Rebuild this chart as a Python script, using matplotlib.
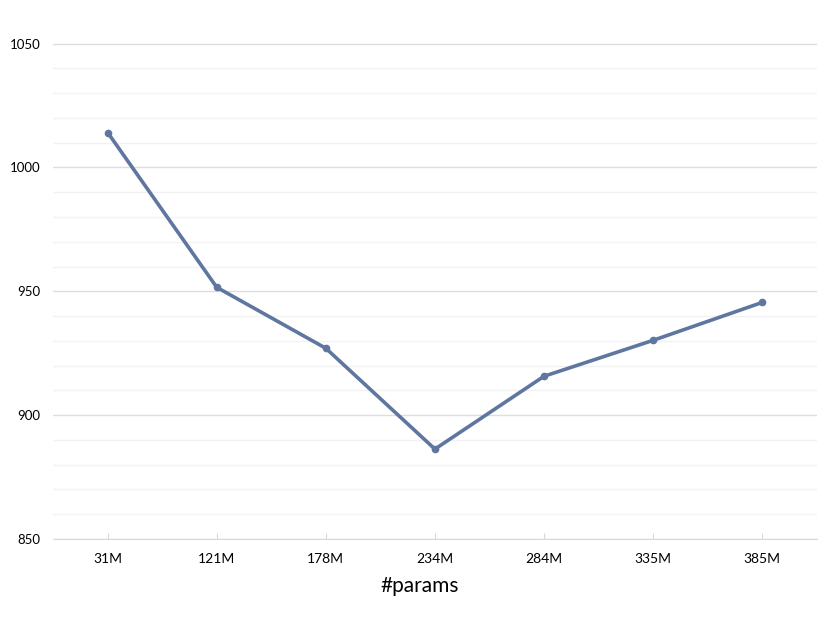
import matplotlib
matplotlib.use('Agg')
import matplotlib.pyplot as plt

# Daten
params = ['31M', '121M', '178M', '234M', '284M', '335M', '385M']
values = [1014.1, 951.6, 927.0, 886.3, 915.7, 930.2, 945.5]
y_ticks = [850, 900, 950, 1000, 1050]
y_minor = [860, 870, 880, 890, 910, 920, 930, 940, 960, 970, 980, 990, 1010, 1020, 1030, 1040]

plt.rcParams['font.family'] = ['Lato', 'DejaVu Sans']

fig = plt.figure(figsize=(8.3, 6.42), dpi=100)
ax = fig.add_axes([0.064, 0.1604, 0.92, 0.8026])

x = list(range(len(params)))
ax.plot(x, values, color='#5f77a0', lw=2.6, marker='o', ms=4.5, zorder=3)

ax.set_xlim(-0.5, len(params) - 0.5)
ax.set_ylim(850, 1058)
ax.set_yticks(y_ticks)
ax.set_yticks(y_minor, minor=True)
ax.set_xticks(x)
ax.set_xticklabels(params)

ax.grid(axis='y', which='major', color='#dedede', lw=1)
ax.grid(axis='y', which='minor', color='#f2f2f2', lw=1)
ax.set_axisbelow(True)

for s in ['top', 'right', 'left']:
    ax.spines[s].set_visible(False)
ax.spines['bottom'].set_color('#d8d8d8')
ax.tick_params(axis='y', which='both', length=0, labelsize=9.5, pad=9)
ax.tick_params(axis='x', direction='in', length=4, color='#d8d8d8', labelsize=10, pad=10)

# x-Achsenbeschriftung leicht links von der Achsenmitte, wie im Original
fig.text(420 / 830, 1 - 586 / 642, '#params', fontsize=15, ha='center', va='center')

fig.savefig('out.png', dpi=100)
